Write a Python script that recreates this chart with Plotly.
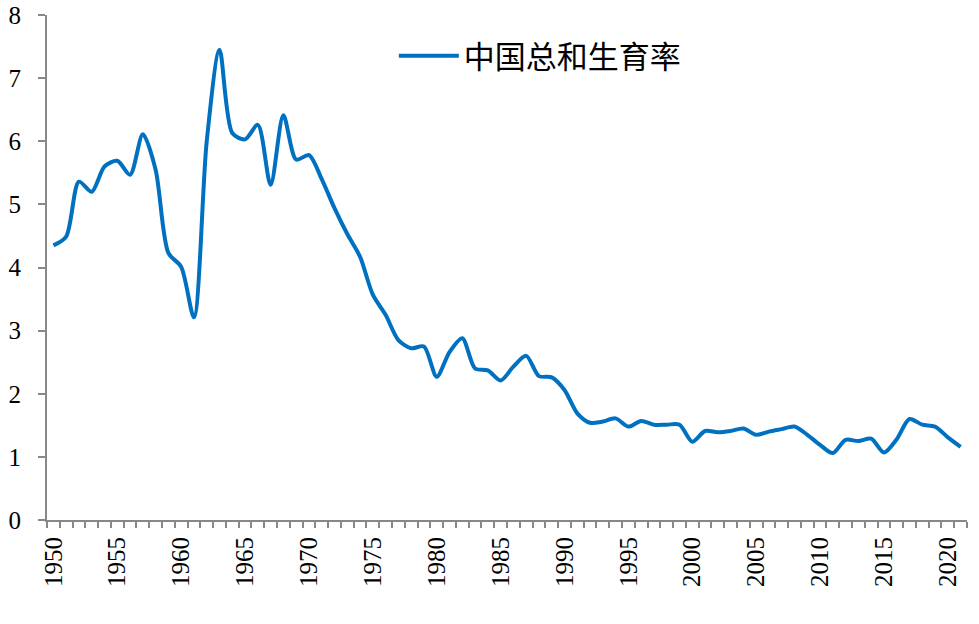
import plotly.graph_objects as go

years = list(range(1950, 2022))
tfr = [4.35, 4.49, 5.36, 5.20, 5.60, 5.69, 5.47, 6.11, 5.55, 4.23,
       4.01, 3.21, 6.00, 7.45, 6.13, 6.03, 6.26, 5.31, 6.41, 5.71,
       5.78, 5.40, 4.94, 4.53, 4.17, 3.57, 3.25, 2.85, 2.72, 2.75,
       2.27, 2.66, 2.88, 2.40, 2.37, 2.21, 2.43, 2.60, 2.28, 2.26,
       2.06, 1.69, 1.54, 1.56, 1.61, 1.48, 1.57, 1.51, 1.51, 1.51,
       1.24, 1.41, 1.39, 1.41, 1.45, 1.35, 1.40, 1.44, 1.48, 1.35,
       1.19, 1.06, 1.27, 1.25, 1.29, 1.07, 1.28, 1.60, 1.51, 1.48,
       1.31, 1.16]
label_years = list(range(1950, 2021, 5))
series_name = "中国总和生育率"

fig = go.Figure()
fig.add_trace(go.Scatter(
    x=years, y=tfr, mode="lines", name=series_name,
    line=dict(color="#0070C0", width=4, shape="spline", smoothing=0.8),
))

axis_font = dict(family="Liberation Serif, Times New Roman, serif", size=25, color="black")
fig.update_layout(
    width=979, height=624,
    margin=dict(l=47, r=12, t=15, b=104),
    plot_bgcolor="white", paper_bgcolor="white",
    showlegend=True,
    legend=dict(x=0.377, y=0.972, xanchor="left", yanchor="top",
                font=dict(family="Noto Sans CJK SC", size=31, color="black"),
                bgcolor="rgba(0,0,0,0)", itemwidth=60),
    xaxis=dict(
        range=[1949.5, 2021.5], tickvals=label_years,
        ticktext=[str(y) for y in label_years],
        tickangle=-90, ticks="", showgrid=False, zeroline=False,
        showline=True, linecolor="#888888", linewidth=2,
        tickfont=axis_font, ticklabelstandoff=5, automargin=False,
        minor=dict(tick0=1949.5, dtick=1, ticks="outside", ticklen=6,
                   tickcolor="#888888", tickwidth=2, showgrid=False),
    ),
    yaxis=dict(
        range=[0, 8], dtick=1, ticks="outside", ticklen=7,
        tickcolor="#888888", tickwidth=2, showgrid=False, zeroline=False,
        showline=True, linecolor="#888888", linewidth=2,
        tickfont=axis_font, ticklabelstandoff=12, automargin=False,
    ),
)
fig.write_html("out.html")
